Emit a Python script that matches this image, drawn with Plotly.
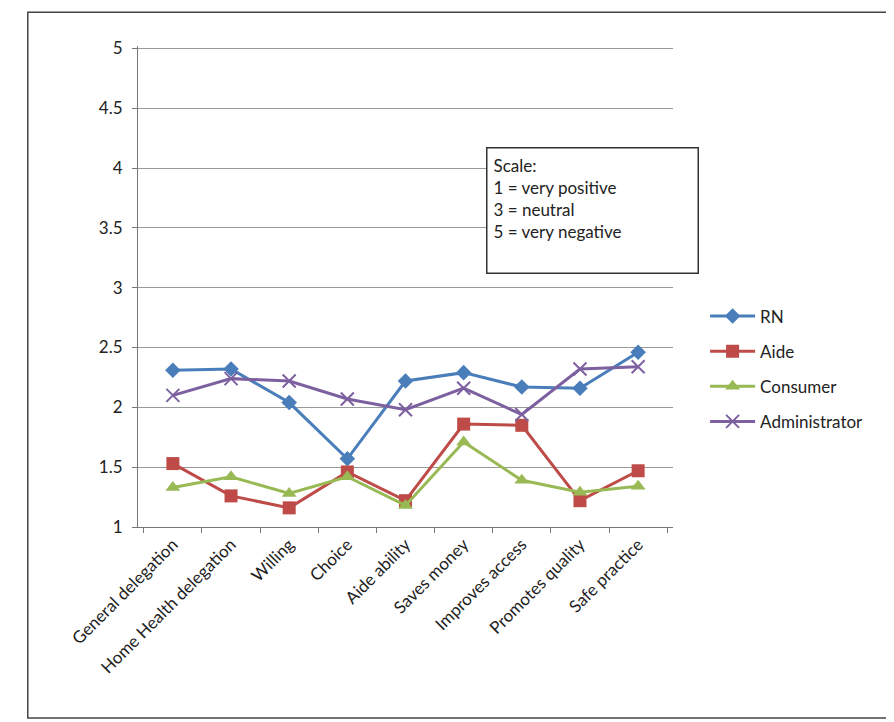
import plotly.graph_objects as go

categories = ["General delegation", "Home Health delegation", "Willing", "Choice",
              "Aide ability", "Saves money", "Improves access", "Promotes quality",
              "Safe practice"]
rn = [2.31, 2.32, 2.04, 1.57, 2.22, 2.29, 2.17, 2.16, 2.46]
aide = [1.53, 1.26, 1.16, 1.46, 1.22, 1.86, 1.85, 1.22, 1.47]
consumer = [1.33, 1.42, 1.28, 1.42, 1.18, 1.71, 1.39, 1.29, 1.34]
administrator = [2.10, 2.24, 2.22, 2.07, 1.98, 2.16, 1.94, 2.32, 2.34]
y_ticks = [1, 1.5, 2, 2.5, 3, 3.5, 4, 4.5, 5]
y_tick_labels = ["1", "1.5", "2", "2.5", "3", "3.5", "4", "4.5", "5"]

series = [
    ("RN", rn, "#4A7EBB", dict(symbol="diamond", size=12)),
    ("Aide", aide, "#BE4B48", dict(symbol="square", size=13)),
    ("Consumer", consumer, "#98B954", dict(symbol="triangle-up", size=13)),
    ("Administrator", administrator, "#7D60A0",
     dict(symbol="x-thin", size=13, line=dict(width=2, color="#7D60A0"))),
]

fig = go.Figure()
for name, vals, color, mk in series:
    mk = dict(mk)
    mk["color"] = color
    fig.add_trace(go.Scatter(
        x=categories, y=vals, name=name, mode="lines+markers",
        line=dict(color=color, width=3), marker=mk, legendgroup=name,
    ))

fig.update_layout(
    width=894, height=722,
    margin=dict(l=130, r=229, t=38, b=203),
    paper_bgcolor="white", plot_bgcolor="white",
    font=dict(family="Lato, Open Sans, sans-serif", size=17, color="#222"),
    showlegend=True,
    legend=dict(x=1.06, y=0.475, xanchor="left", yanchor="top",
                font=dict(size=17, color="#222"), tracegroupgap=10,
                itemwidth=45, bgcolor="rgba(0,0,0,0)"),
    xaxis=dict(type="category", tickson="boundaries", ticks="outside",
               ticklen=5, tickcolor="#777", showline=True, linecolor="#777",
               linewidth=1, tickangle=-45, showgrid=False,
               tickfont=dict(size=17, color="#222")),
    yaxis=dict(range=[1, 5.02], tickvals=y_ticks, ticktext=y_tick_labels,
               ticks="outside", ticklen=5, tickcolor="#777",
               showline=True, linecolor="#777", linewidth=1,
               showgrid=True, gridcolor="#999", gridwidth=1,
               ticklabelstandoff=6,
               zeroline=False, tickfont=dict(size=17, color="#222")),
    annotations=[dict(
        x=0.65, y=0.79, xref="paper", yref="paper", xanchor="left", yanchor="top",
        text="Scale:<br>1 = very positive<br>3 = neutral<br>5 = very negative",
        showarrow=False, align="left", valign="top", width=198, height=112,
        bordercolor="#333", borderwidth=1.5, borderpad=6, bgcolor="white",
        font=dict(size=17, color="#222"),
    )],
    shapes=[dict(type="rect", xref="paper", yref="paper",
                 x0=-0.206, x1=1.42, y0=-0.397, y1=1.07,
                 line=dict(color="#444", width=1.5))],
)

fig.write_html("out.html")
